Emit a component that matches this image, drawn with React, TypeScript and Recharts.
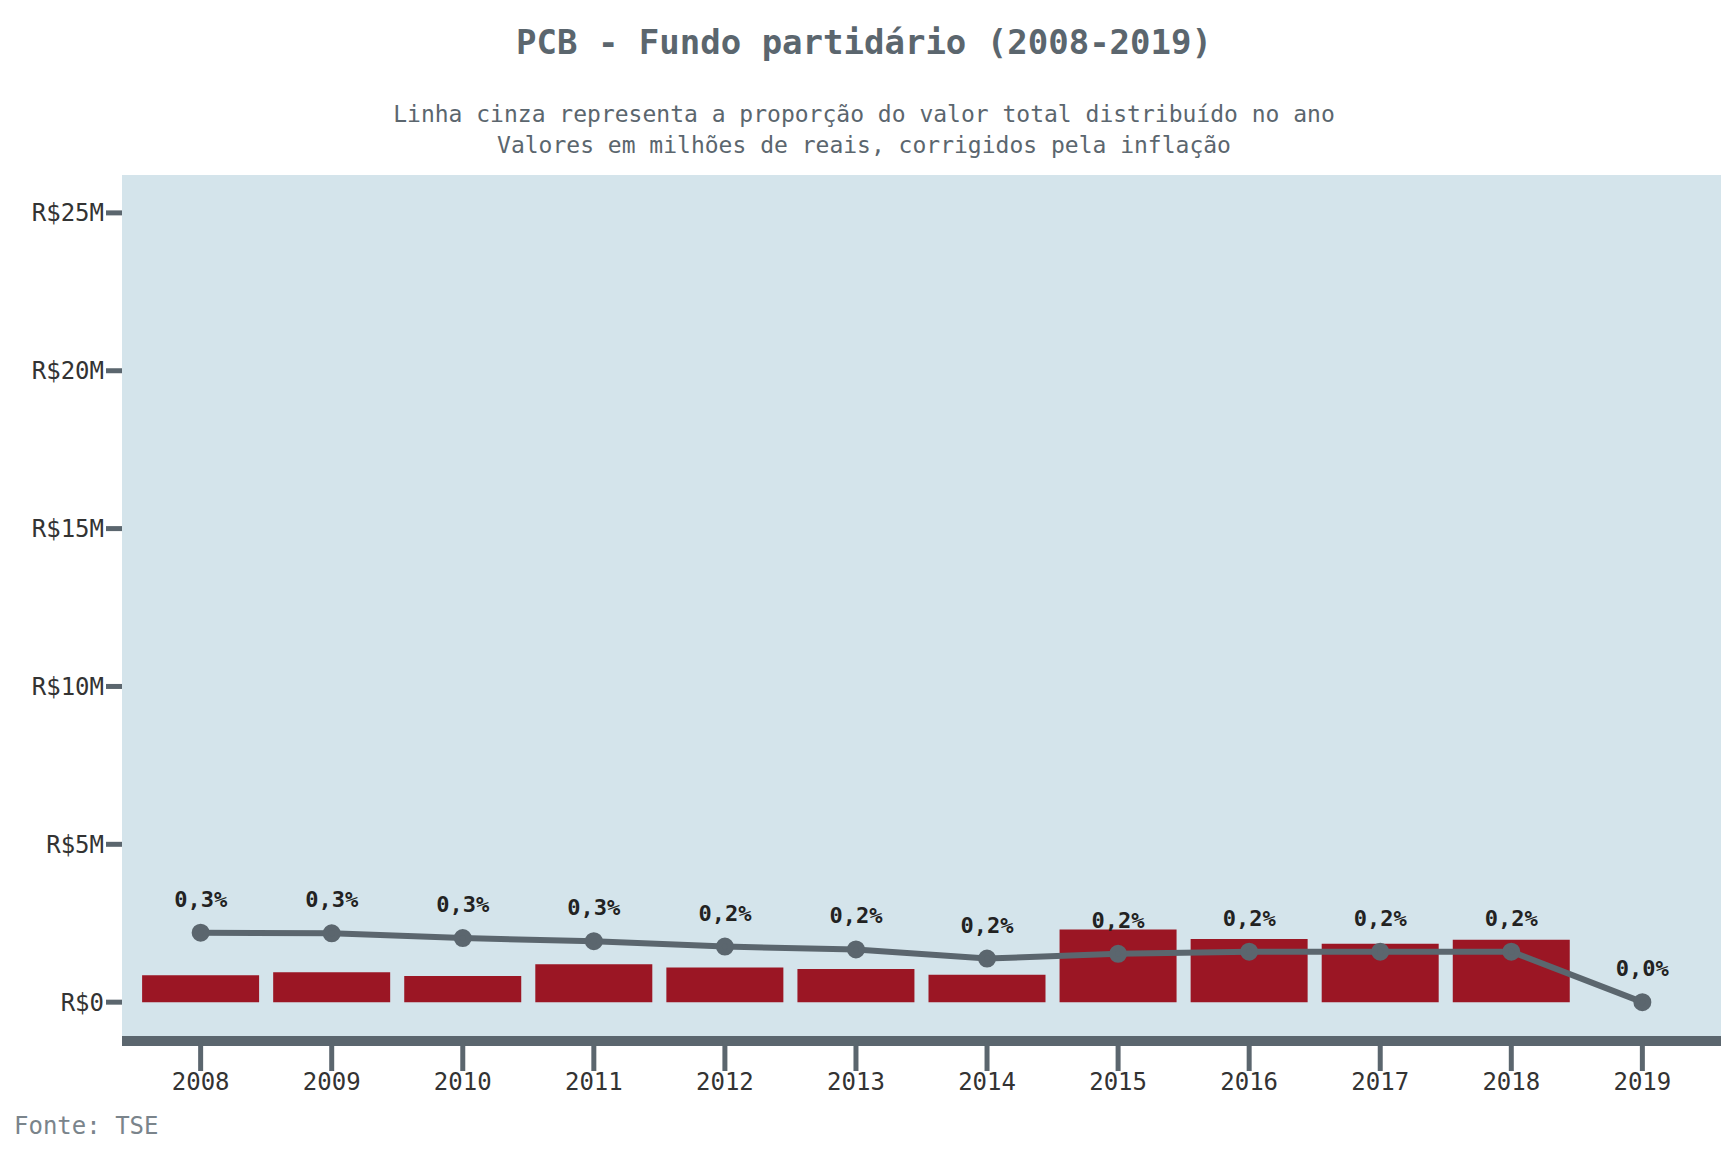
import React from "react";
import {
  ComposedChart,
  Bar,
  Line,
  XAxis,
  YAxis,
  CartesianGrid,
  LabelList,
} from "recharts";

const years = [2008, 2009, 2010, 2011, 2012, 2013, 2014, 2015, 2016, 2017, 2018, 2019];
// fundo partidário, R$ milhões (corrigidos)
const fundValues = [0.85, 0.95, 0.83, 1.2, 1.1, 1.05, 0.87, 2.3, 2.0, 1.85, 1.98, 0];
// gray line position (share of total, drawn on the same scale)
const shareLine = [2.2, 2.18, 2.03, 1.93, 1.76, 1.67, 1.38, 1.53, 1.6, 1.6, 1.6, 0];
const shareLabels = ["0,3%", "0,3%", "0,3%", "0,3%", "0,2%", "0,2%", "0,2%", "0,2%", "0,2%", "0,2%", "0,2%", "0,0%"];
const yTicks = [0, 5, 10, 15, 20, 25];

const FONT = "'DejaVu Sans Mono', monospace";
const GRAY = "#5b666e";

const data = years.map((year, i) => ({
  year,
  value: fundValues[i],
  share: shareLine[i],
  label: shareLabels[i],
}));

export default function App() {
  return (
    <div style={{ position: "absolute", left: 0, top: 0, width: 1728, height: 1152, background: "#fff", fontFamily: FONT }}>
      <div style={{ position: "absolute", top: 22, width: 1728, textAlign: "center", fontSize: 34, fontWeight: "bold", color: GRAY }}>
        PCB - Fundo partidário (2008-2019)
      </div>
      <div style={{ position: "absolute", top: 99, width: 1728, textAlign: "center", fontSize: 23, color: GRAY, lineHeight: "31px" }}>
        Linha cinza representa a proporção do valor total distribuído no ano
        <br />
        Valores em milhões de reais, corrigidos pela inflação
      </div>
      <div style={{ position: "absolute", top: 1112, left: 14, fontSize: 24, color: "#7a848b" }}>Fonte: TSE</div>
      <div style={{ position: "absolute", left: 0, top: 0 }}>
        <ComposedChart
          width={1728}
          height={1152}
          data={data}
          margin={{ top: 175, right: 7, left: 0, bottom: 40 }}
        >
          <CartesianGrid fill="#d4e4eb" horizontal={false} vertical={false} stroke="none" />
          <XAxis
            dataKey="year"
            type="number"
            domain={[2007.4, 2019.6]}
            ticks={years}
            height={71}
            axisLine={{ stroke: GRAY, strokeWidth: 10 }}
            tickLine={{ stroke: GRAY, strokeWidth: 5 }}
            tickSize={30}
            tick={{ fill: "#333", fontSize: 24, fontFamily: FONT }}
            tickFormatter={(v) => String(v)}
          />
          <YAxis
            width={122}
            domain={[-1.23, 26.2]}
            ticks={yTicks}
            axisLine={false}
            tickLine={{ stroke: GRAY, strokeWidth: 5 }}
            tickSize={16}
            tick={{ fill: "#333", fontSize: 24, fontFamily: FONT }}
            tickFormatter={(v) => `R$${v === 0 ? "0" : v + "M"}`}
            allowDataOverflow
          />
          <Bar dataKey="value" fill="#9b1624" barSize={117} isAnimationActive={false} />
          <Line
            dataKey="share"
            stroke={GRAY}
            strokeWidth={6}
            dot={{ r: 6, fill: GRAY, stroke: GRAY }}
            isAnimationActive={false}
          >
            <LabelList
              dataKey="label"
              position="top"
              offset={26}
              style={{ fill: "#222", fontSize: 22, fontWeight: "bold", fontFamily: FONT }}
            />
          </Line>
        </ComposedChart>
      </div>
    </div>
  );
}
